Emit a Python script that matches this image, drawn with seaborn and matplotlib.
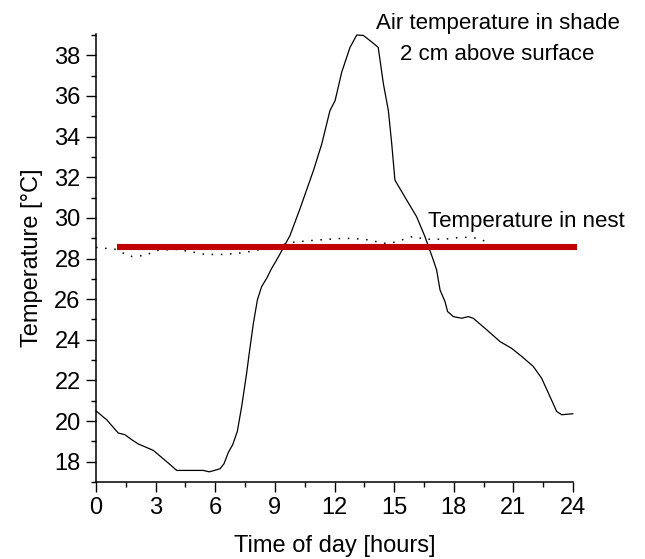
import matplotlib
matplotlib.use("Agg")
import matplotlib.pyplot as plt
from matplotlib.ticker import MultipleLocator
import seaborn as sns
import pandas as pd

# air temperature in shade, 2 cm above surface (hours, degC)
air_hours = [0, 0.54, 1.12, 1.45, 1.8, 2.13, 2.88, 3.64, 4.06, 5.4, 5.7, 6.24, 6.44,
             6.66, 6.88, 7.11, 7.33, 7.58, 7.71, 7.92, 8.12, 8.33, 8.59, 8.84, 9.09,
             9.26, 9.76, 10.26, 10.94, 11.36, 11.77, 12.03, 12.36, 12.78, 13.12, 13.45,
             13.87, 14.2, 14.46, 14.71, 14.88, 15.04, 15.63, 16.13, 16.55, 16.97, 17.14,
             17.31, 17.56, 17.69, 17.98, 18.4, 18.73, 18.98, 19.66, 20.33, 20.91, 21.42,
             22.0, 22.42, 22.76, 23.18, 23.43, 24.0]
air_temp = [20.5, 20.06, 19.41, 19.33, 19.08, 18.87, 18.56, 17.93, 17.57, 17.57, 17.5,
            17.65, 17.9, 18.46, 18.84, 19.49, 20.72, 22.36, 23.34, 24.82, 25.96, 26.61,
            27.03, 27.52, 27.93, 28.23, 29.13, 30.44, 32.33, 33.64, 35.28, 35.77, 37.16,
            38.39, 39.0, 38.98, 38.66, 38.39, 36.6, 35.28, 33.64, 31.86, 30.88, 30.06,
            29.08, 27.93, 27.43, 26.45, 25.88, 25.39, 25.14, 25.06, 25.14, 25.06, 24.49,
            23.91, 23.58, 23.18, 22.69, 22.11, 21.38, 20.47, 20.31, 20.36]

# temperature in nest (dotted)
nest_hours = [0, 1.0, 1.7, 2.5, 3.0, 4.0, 4.7, 5.5, 6.5, 7.5, 8.3, 9.0, 9.9, 11.0,
              12.5, 13.5, 14.5, 15.0, 16.0, 16.5, 17.5, 18.5, 19.2, 19.7]
nest_temp = [28.55, 28.45, 28.1, 28.15, 28.4, 28.45, 28.35, 28.2, 28.2, 28.3, 28.45,
             28.6, 28.8, 28.9, 29.0, 28.95, 28.75, 28.8, 29.1, 28.95, 28.95, 29.05,
             29.0, 28.8]

# mean nest temperature (red bar)
mean_hours = [1.05, 24.2]
mean_temp = [28.55, 28.55]

air = pd.DataFrame({"hour": air_hours, "temp": air_temp})
nest = pd.DataFrame({"hour": nest_hours, "temp": nest_temp})
mean = pd.DataFrame({"hour": mean_hours, "temp": mean_temp})

sns.set_style("ticks")
plt.rcParams["font.family"] = ["Liberation Sans", "DejaVu Sans"]
plt.rcParams["text.color"] = "black"
plt.rcParams["axes.labelcolor"] = "black"

fig = plt.figure(figsize=(6.45, 5.59), dpi=100)
ax = fig.add_axes([96 / 645, 1 - 482 / 559, 477 / 645, 448 / 559])

sns.lineplot(data=air, x="hour", y="temp", ax=ax, color="black", lw=0.9,
             sort=False, estimator=None)
sns.lineplot(data=nest, x="hour", y="temp", ax=ax, color="black", lw=1.1,
             linestyle=(0, (1, 5)), sort=False, estimator=None)
sns.lineplot(data=mean, x="hour", y="temp", ax=ax, color="#C00000", lw=4.4,
             sort=False, estimator=None, solid_capstyle="butt")
for line in ax.lines:
    line.set_clip_on(False)

ax.set_xlim(0, 24)
ax.set_ylim(17, 39.05)
ax.xaxis.set_major_locator(MultipleLocator(3))
ax.xaxis.set_minor_locator(MultipleLocator(1.5))
ax.yaxis.set_major_locator(MultipleLocator(2))
ax.yaxis.set_minor_locator(MultipleLocator(1))
ax.set_yticks(range(18, 39, 2))

ax.tick_params(which="major", direction="out", length=7, width=1, labelsize=17,
               pad=4, color="black", labelcolor="black")
ax.tick_params(which="minor", direction="out", length=3.8, width=1, color="black")
sns.despine(ax=ax)
for side in ["left", "bottom"]:
    ax.spines[side].set_linewidth(1.1)
    ax.spines[side].set_color("black")

ax.set_xlabel("Time of day [hours]", fontsize=17, labelpad=11)
ax.set_ylabel("Temperature [°C]", fontsize=17, labelpad=8)

ax.text(20.2, 39.55, "Air temperature in shade", fontsize=16, ha="center",
        va="center", clip_on=False)
ax.text(20.2, 38.05, "2 cm above surface", fontsize=16, ha="center", va="center",
        clip_on=False)
ax.text(16.7, 29.82, "Temperature in nest", fontsize=16, ha="left", va="center",
        clip_on=False)

fig.savefig("out.png", dpi=100)
